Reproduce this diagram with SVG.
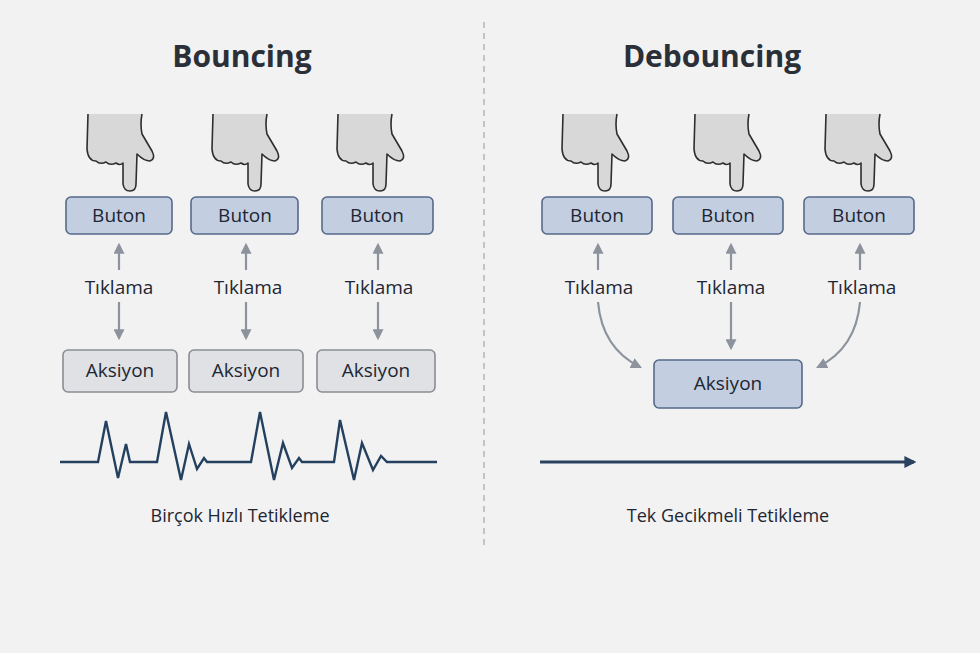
<svg xmlns="http://www.w3.org/2000/svg" xmlns:xlink="http://www.w3.org/1999/xlink" width="980" height="653" viewBox="0 0 980 653">
<style>
text{font-family:"Open Sans","Liberation Sans",sans-serif;fill:#1e2633;text-anchor:middle}
.t{font-size:30px;font-weight:bold;fill:#2a2f38}
.b{fill:#c3cfe1;stroke:#56698a;stroke-width:1.6}
.a{fill:#dfe1e5;stroke:#8a8d93;stroke-width:1.6}
.l{font-size:19px}
.c{font-size:18px}
.ar{stroke:#8c939c;stroke-width:2.2;fill:none}
.hand{fill:#d8d8d8;stroke:#2e2e2e;stroke-width:1.6;stroke-linejoin:round}
</style>
<defs>
<marker id="m" viewBox="0 0 10 10" refX="8" refY="5" markerWidth="5" markerHeight="5" orient="auto"><path d="M0,0 L10,5 L0,10 Z" fill="#8c939c"/></marker>
<marker id="m2" viewBox="0 0 10 10" refX="8" refY="5" markerWidth="4" markerHeight="4" orient="auto"><path d="M0,0 L10,5 L0,10 Z" fill="#2a4260"/></marker>
<path id="h" class="hand" d="M-42,-75 L-43,-40 Q-42,-28 -34,-28 Q-30,-24 -24,-27 Q-20,-23 -14,-26 Q-10,-23 -7,-26 L-7,-5 Q-6,2 0,2 Q6,2 6,-5 L7,-35 Q14,-28 20,-28 Q26,-30 22,-38 L12,-55 Q10,-65 12,-75"/>
</defs>
<rect width="980" height="653" fill="#f2f2f2"/>
<line x1="484" y1="22" x2="484" y2="548" stroke="#c4c4c4" stroke-width="2" stroke-dasharray="6,5"/>
<text class="t" x="242" y="67">Bouncing</text>
<text class="t" x="712" y="67">Debouncing</text>
<g id="hands">
<use xlink:href="#h" x="130" y="189"/><use xlink:href="#h" x="255" y="189"/><use xlink:href="#h" x="380" y="189"/>
<use xlink:href="#h" x="605" y="189"/><use xlink:href="#h" x="737" y="189"/><use xlink:href="#h" x="868" y="189"/>
</g>
<g id="b1"><rect class="b" x="66" y="197" width="106" height="37" rx="5"/><text class="l" x="119" y="222">Buton</text></g>
<g id="b2"><rect class="b" x="191" y="197" width="107" height="37" rx="5"/><text class="l" x="245" y="222">Buton</text></g>
<g id="b3"><rect class="b" x="322" y="197" width="111" height="37" rx="5"/><text class="l" x="377" y="222">Buton</text></g>
<g id="b4"><rect class="b" x="542" y="197" width="110" height="37" rx="5"/><text class="l" x="597" y="222">Buton</text></g>
<g id="b5"><rect class="b" x="673" y="197" width="110" height="37" rx="5"/><text class="l" x="728" y="222">Buton</text></g>
<g id="b6"><rect class="b" x="804" y="197" width="110" height="37" rx="5"/><text class="l" x="859" y="222">Buton</text></g>
<g id="a1"><rect class="a" x="63" y="350" width="114" height="42" rx="5"/><text class="l" x="120" y="377">Aksiyon</text></g>
<g id="a2"><rect class="a" x="189" y="350" width="114" height="42" rx="5"/><text class="l" x="246" y="377">Aksiyon</text></g>
<g id="a3"><rect class="a" x="317" y="350" width="118" height="42" rx="5"/><text class="l" x="376" y="377">Aksiyon</text></g>
<g id="a4"><rect class="b" x="654" y="360" width="148" height="48" rx="5"/><text class="l" x="728" y="390">Aksiyon</text></g>
<g id="labels" class="c">
<text class="l" x="119" y="294">Tıklama</text><text class="l" x="248" y="294">Tıklama</text><text class="l" x="379" y="294">Tıklama</text>
<text class="l" x="599" y="294">Tıklama</text><text class="l" x="731" y="294">Tıklama</text><text class="l" x="862" y="294">Tıklama</text>
</g>
<g id="connectors">
<line class="ar" x1="119" y1="270" x2="119" y2="245" marker-end="url(#m)"/>
<line class="ar" x1="246" y1="270" x2="246" y2="245" marker-end="url(#m)"/>
<line class="ar" x1="378" y1="270" x2="378" y2="245" marker-end="url(#m)"/>
<line class="ar" x1="119" y1="302" x2="119" y2="338" marker-end="url(#m)"/>
<line class="ar" x1="246" y1="302" x2="246" y2="338" marker-end="url(#m)"/>
<line class="ar" x1="378" y1="302" x2="378" y2="338" marker-end="url(#m)"/>
<line class="ar" x1="598" y1="270" x2="598" y2="245" marker-end="url(#m)"/>
<line class="ar" x1="731" y1="270" x2="731" y2="245" marker-end="url(#m)"/>
<line class="ar" x1="860" y1="270" x2="860" y2="245" marker-end="url(#m)"/>
<path class="ar" d="M598,302 Q602,348 640,367" marker-end="url(#m)"/>
<line class="ar" x1="731" y1="302" x2="731" y2="348" marker-end="url(#m)"/>
<path class="ar" d="M860,302 Q856,348 818,367" marker-end="url(#m)"/>
<line x1="540" y1="462" x2="914" y2="462" stroke="#2a4260" stroke-width="3" marker-end="url(#m2)"/>
</g>
<polyline fill="none" stroke="#24405f" stroke-width="2.4" stroke-linejoin="miter" points="60,462 98,462 106,421 118,478 126,444 130,462 157,462 166,412 181,480 189,444 197,469 204,458 207,462 251,462 260,412 274,480 283,443 292,468 299,458 302,462 334,462 340,420 354,480 362,443 373,470 381,456 387,462 437,462"/>
<text class="c" x="240" y="522">Birçok Hızlı Tetikleme</text>
<text class="c" x="728" y="522">Tek Gecikmeli Tetikleme</text>
</svg>
